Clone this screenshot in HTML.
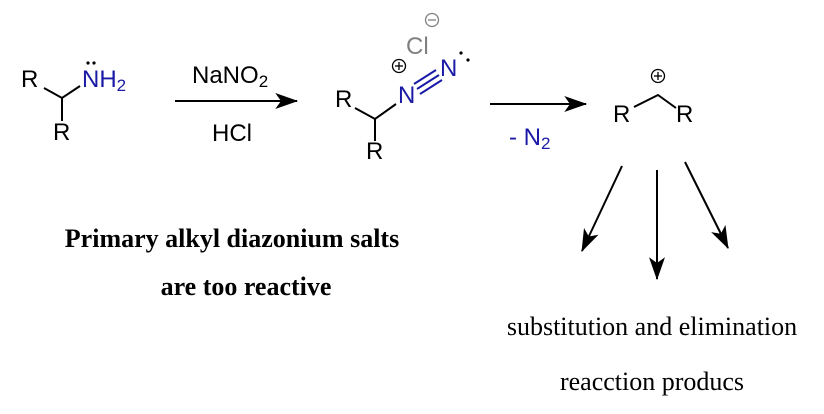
<!DOCTYPE html>
<html><head><style>
html,body{margin:0;padding:0;background:#fff;}
svg{display:block}
.s{font-family:"Liberation Sans",sans-serif;font-size:24px;}
.b{fill:#1a1aa6}
.g{fill:#808080}
.t{font-family:"Liberation Serif",serif;font-size:26px;}
</style></head><body>
<svg width="824" height="414" viewBox="0 0 824 414" xmlns="http://www.w3.org/2000/svg">
<defs>
<marker id="h" viewBox="0 0 20 14" markerWidth="24" markerHeight="16" refX="19" refY="7" orient="auto" markerUnits="userSpaceOnUse"><path d="M0,0 L20,7 L0,14 L5,7 Z" fill="#000"/></marker></defs>
<g stroke="#000" stroke-width="2" fill="none">
<polyline points="44,88 62,98 80,86"/>
<line x1="62" y1="98" x2="62" y2="121"/>
<polyline points="355,108 375,119 396,104"/>
<line x1="375" y1="119" x2="375" y2="141"/>
<polyline points="634,107 658,95 676,108"/>
<line x1="175" y1="101" x2="297" y2="101" marker-end="url(#h)"/>
<line x1="490" y1="104" x2="586" y2="104" marker-end="url(#h)"/>
<line x1="622" y1="166" x2="582" y2="251" marker-end="url(#h)"/>
<line x1="657" y1="170" x2="657" y2="279" marker-end="url(#h)"/>
<line x1="685" y1="162" x2="728" y2="248" marker-end="url(#h)"/>
</g>
<g stroke="#1a1aa6" stroke-width="2">
<line x1="414" y1="84" x2="436" y2="70"/>
<line x1="417" y1="89" x2="439" y2="75"/>
<line x1="420" y1="94" x2="442" y2="80"/>
</g>
<g stroke="#000" stroke-width="1.3" fill="none">
<circle cx="399" cy="66" r="6.5"/><line x1="395" y1="66" x2="403" y2="66"/><line x1="399" y1="62" x2="399" y2="70"/>
<circle cx="658" cy="76" r="6.5"/><line x1="654" y1="76" x2="662" y2="76"/><line x1="658" y1="72" x2="658" y2="80"/>
</g>
<g stroke="#808080" stroke-width="1.3" fill="none"><circle cx="432" cy="20" r="6.5"/><line x1="428" y1="20" x2="436" y2="20"/></g>
<g fill="#000"><circle cx="88" cy="63" r="1.6"/><circle cx="94" cy="63" r="1.6"/><circle cx="461" cy="53" r="1.6"/><circle cx="468" cy="60" r="1.6"/></g>
<text class="s" x="21" y="87">R</text>
<text class="s" x="53" y="140">R</text>
<text class="s b" x="82" y="87">NH<tspan font-size="17" dy="4">2</tspan></text>
<text class="s" x="192" y="83">NaNO<tspan font-size="17" dy="4">2</tspan></text>
<text class="s" x="212" y="141">HCl</text>
<text class="s" x="335" y="107">R</text>
<text class="s" x="366" y="159">R</text>
<text class="s b" x="398" y="103">N</text>
<text class="s b" x="440" y="76">N</text>
<text class="s g" x="406" y="54">Cl</text>
<text class="s b" x="509" y="145">- N<tspan font-size="17" dy="4">2</tspan></text>
<text class="s" x="613" y="122">R</text>
<text class="s" x="676" y="122">R</text>
<text class="t" x="232" y="247" text-anchor="middle" font-weight="bold">Primary alkyl diazonium salts</text>
<text class="t" x="246" y="295" text-anchor="middle" font-weight="bold">are too reactive</text>
<text class="t" x="652" y="335" text-anchor="middle">substitution and elimination</text>
<text class="t" x="652" y="390" text-anchor="middle">reacction producs</text>
</svg>
</body></html>
